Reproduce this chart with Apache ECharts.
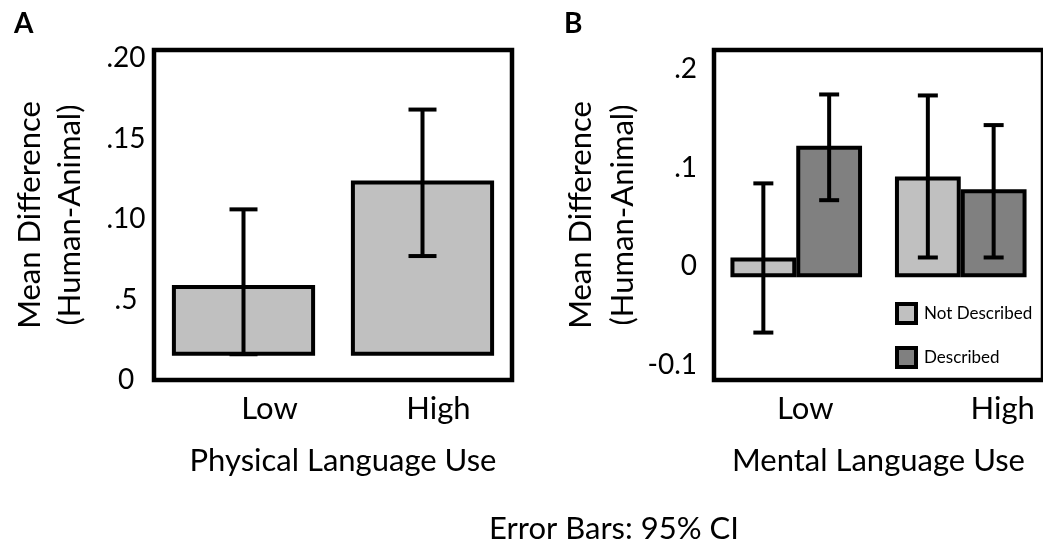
<!DOCTYPE html>
<html>
<head>
<meta charset="utf-8">
<script src="https://cdn.jsdelivr.net/npm/echarts@6/dist/echarts.min.js"></script>
<style>
  html, body { margin: 0; padding: 0; background: #fff; }
  #chart { width: 1043px; height: 545px; }
</style>
</head>
<body>
<div id="chart"></div>
<script>
// panel A: physical language use
const aCategories = ['Low', 'High']
const aMeans = [0.059, 0.124]
const aLower = [0.016, 0.077]
const aUpper = [0.106, 0.168]
const aBarStart = 0.015
const aTickValues = [0, 0.05, 0.1, 0.15, 0.2]
const aTickLabels = ['0', '.5', '.10', '.15', '.20']

// panel B: mental language use
const bCategories = ['Low', 'High']
const bNotDescribed = [0.009, 0.091]
const bDescribed = [0.122, 0.078]
const bNdLower = [-0.067, 0.009]
const bNdUpper = [0.084, 0.173]
const bDLower = [0.067, 0.009]
const bDUpper = [0.174, 0.143]
const bBarStart = -0.011
const bTickValues = [-0.1, 0, 0.1, 0.2]
const bTickLabels = ['-0.1', '0', '.1', '.2']

const FONT = 'Lato'
const BIG = 31
const LIGHT = '#c0c0c0'
const DARK = '#808080'

// error bar drawn with the axis scale; offset is in bar widths
function errorBar(capWidth, offset, groupSize) {
  return function (params, api) {
    const cat = api.value(0)
    const lo = api.coord([cat, api.value(1)])
    const hi = api.coord([cat, api.value(2)])
    const band = api.size([1, 0])[0]
    const barW = band * 0.8 / groupSize
    const x = lo[0] + offset * barW
    const style = { stroke: '#000', lineWidth: 4 }
    return {
      type: 'group',
      children: [
        { type: 'line', shape: { x1: x, y1: hi[1], x2: x, y2: lo[1] }, style },
        { type: 'line', shape: { x1: x - capWidth / 2, y1: hi[1], x2: x + capWidth / 2, y2: hi[1] }, style },
        { type: 'line', shape: { x1: x - capWidth / 2, y1: lo[1], x2: x + capWidth / 2, y2: lo[1] }, style },
      ],
    }
  }
}

function ciData(lower, upper) {
  return lower.map((v, i) => [i, v, upper[i]])
}

function tickFormatter(values, labels) {
  return (v) => {
    const i = values.findIndex((t) => Math.abs(t - v) < 1e-9)
    return i >= 0 ? labels[i] : ''
  }
}

const chart = echarts.init(document.getElementById('chart'))

const option = {
  animation: false,
  textStyle: { fontFamily: FONT, color: '#000' },
  title: [
    { text: 'A', left: 9, top: 5, textStyle: { fontFamily: FONT, fontSize: 28, fontWeight: 'bold', color: '#000' } },
    { text: 'B', left: 559, top: 5, textStyle: { fontFamily: FONT, fontSize: 28, fontWeight: 'bold', color: '#000' } },
    { text: 'Error Bars: 95% CI', left: 484, top: 508, textStyle: { fontFamily: FONT, fontSize: BIG, fontWeight: 'normal', color: '#000' } },
  ],
  legend: {
    data: ['Not Described', 'Described'],
    orient: 'vertical',
    left: 895,
    top: 302,
    padding: 0,
    itemWidth: 19,
    itemHeight: 19,
    itemGap: 21,
    icon: 'rect',
    itemStyle: { borderColor: '#000', borderWidth: 4 },
    textStyle: { fontFamily: FONT, fontSize: 17, color: '#000', padding: [0, 0, 0, 3] },
  },
  grid: [
    { left: 154, top: 50, width: 358, height: 330, show: true, borderColor: '#000', borderWidth: 4.5, backgroundColor: '#fff' },
    { left: 714, top: 50, width: 334, height: 330, show: true, borderColor: '#000', borderWidth: 4.5, backgroundColor: '#fff' },
  ],
  xAxis: [
    {
      gridIndex: 0,
      type: 'category',
      data: aCategories,
      axisLine: { show: false },
      axisTick: { show: false },
      axisLabel: {
        interval: 0,
        hideOverlap: false,
        margin: 13,
        fontSize: BIG,
        fontFamily: FONT,
        color: '#000',
        formatter: (v) => '{' + v + '|' + v + '}',
        rich: {
          Low: { fontSize: BIG, fontFamily: FONT, padding: [0, 0, 0, 52] },
          High: { fontSize: BIG, fontFamily: FONT, padding: [0, 0, 0, 32] },
        },
      },
      name: 'Physical Language Use',
      nameLocation: 'middle',
      nameGap: 65,
      nameTextStyle: { fontSize: BIG, fontFamily: FONT, color: '#000', padding: [0, 0, 0, 20] },
    },
    {
      gridIndex: 1,
      type: 'category',
      data: bCategories,
      axisLine: { show: false },
      axisTick: { show: false },
      axisLabel: {
        interval: 0,
        hideOverlap: false,
        margin: 13,
        fontSize: BIG,
        fontFamily: FONT,
        color: '#000',
        formatter: (v) => '{' + v + '|' + v + '}',
        rich: {
          Low: { fontSize: BIG, fontFamily: FONT, padding: [0, 0, 0, 18] },
          High: { fontSize: BIG, fontFamily: FONT, padding: [0, 0, 0, 84] },
        },
      },
      name: 'Mental Language Use',
      nameLocation: 'middle',
      nameGap: 65,
      nameTextStyle: { fontSize: BIG, fontFamily: FONT, color: '#000' },
    },
  ],
  yAxis: [
    {
      gridIndex: 0,
      type: 'value',
      min: 0,
      max: 0.205,
      startValue: aBarStart,
      splitLine: { show: false },
      axisLine: { show: false },
      axisTick: { show: false },
      axisLabel: {
        customValues: aTickValues,
        formatter: tickFormatter(aTickValues, aTickLabels),
        align: 'center',
        margin: 28,
        fontSize: 28,
        fontFamily: FONT,
        color: '#000',
      },
      name: 'Mean Difference\n(Human-Animal)',
      nameLocation: 'middle',
      nameGap: 64,
      nameTextStyle: { fontSize: BIG, fontFamily: FONT, color: '#000', lineHeight: 40 },
    },
    {
      gridIndex: 1,
      type: 'value',
      min: -0.115,
      max: 0.219,
      startValue: bBarStart,
      splitLine: { show: false },
      axisLine: { show: false },
      axisTick: { show: false },
      axisLabel: {
        customValues: bTickValues,
        formatter: tickFormatter(bTickValues, bTickLabels),
        align: 'right',
        margin: 17,
        fontSize: 28,
        fontFamily: FONT,
        color: '#000',
      },
      name: 'Mean Difference\n(Human-Animal)',
      nameLocation: 'middle',
      nameGap: 63,
      nameTextStyle: { fontSize: BIG, fontFamily: FONT, color: '#000', lineHeight: 42 },
    },
  ],
  series: [
    {
      name: 'Physical',
      type: 'bar',
      xAxisIndex: 0,
      yAxisIndex: 0,
      startValue: aBarStart,
      barCategoryGap: '20%',
      data: aMeans,
      itemStyle: { color: LIGHT, borderColor: '#000', borderWidth: 4 },
    },
    {
      name: 'ciA',
      type: 'custom',
      xAxisIndex: 0,
      yAxisIndex: 0,
      renderItem: errorBar(28, 0, 1),
      encode: { x: 0, y: [1, 2] },
      data: ciData(aLower, aUpper),
      z: 5,
    },
    {
      name: 'Not Described',
      type: 'bar',
      xAxisIndex: 1,
      yAxisIndex: 1,
      startValue: bBarStart,
      barGap: '0%',
      barCategoryGap: '20%',
      data: bNotDescribed,
      itemStyle: { color: LIGHT, borderColor: '#000', borderWidth: 4 },
    },
    {
      name: 'Described',
      type: 'bar',
      xAxisIndex: 1,
      yAxisIndex: 1,
      startValue: bBarStart,
      barGap: '0%',
      barCategoryGap: '20%',
      data: bDescribed,
      itemStyle: { color: DARK, borderColor: '#000', borderWidth: 4 },
    },
    {
      name: 'ciND',
      type: 'custom',
      xAxisIndex: 1,
      yAxisIndex: 1,
      renderItem: errorBar(20, -0.5, 2),
      encode: { x: 0, y: [1, 2] },
      data: ciData(bNdLower, bNdUpper),
      z: 5,
    },
    {
      name: 'ciD',
      type: 'custom',
      xAxisIndex: 1,
      yAxisIndex: 1,
      renderItem: errorBar(20, 0.5, 2),
      encode: { x: 0, y: [1, 2] },
      data: ciData(bDLower, bDUpper),
      z: 5,
    },
  ],
}

chart.setOption(option)
</script>
</body>
</html>
